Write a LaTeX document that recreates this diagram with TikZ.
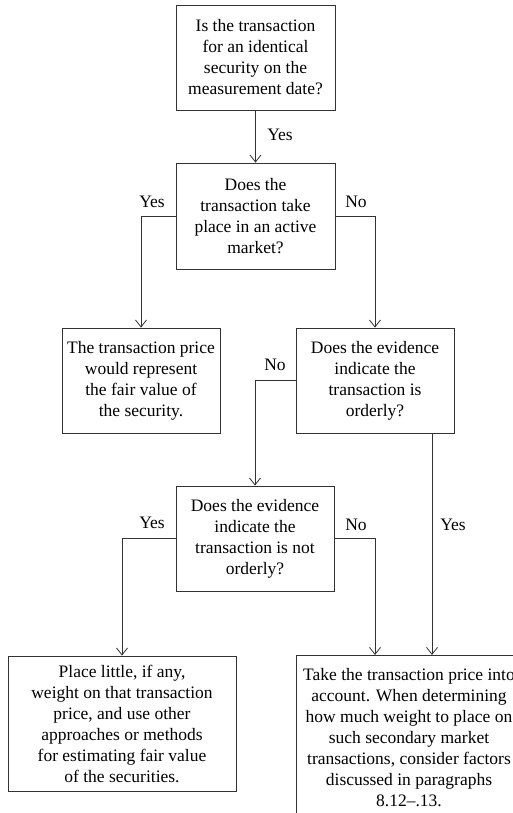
\documentclass[tikz,border=0pt]{standalone}
\usepackage{fontspec}
\setmainfont{Liberation Serif}
\usetikzlibrary{arrows.meta}
\begin{document}
\begin{tikzpicture}[x=1pt,y=-1pt,
    qbox/.style={draw=black!80, line width=0.8pt, align=center, inner sep=0pt,
        font=\fontsize{17.5}{21}\selectfont},
    link/.style={draw=black!80, line width=0.8pt, -{Straight Barb[length=7pt,width=11pt]}},
    tag/.style={font=\fontsize{17.5}{21}\selectfont, inner sep=0pt}]
            % Marco de la figura
            \useasboundingbox (0,0) rectangle (513,813);
            \clip (0,0) rectangle (513,813);

            % Cajas de preguntas
            \node[qbox, minimum width=159, minimum height=105] (q1) at (255.5,57.5)
                {Is the transaction\\ for an identical\\ security on the\\ measurement date?};
            \node[qbox, minimum width=159, minimum height=106] (q2) at (255.5,216)
                {Does the\\ transaction take\\ place in an active\\ market?};
            \node[qbox, minimum width=158, minimum height=105] (r1) at (141,380.5)
                {The transaction price\\ would represent\\ the fair value of\\ the security.};
            \node[qbox, minimum width=158, minimum height=105] (q3) at (375,380.5)
                {Does the evidence\\ indicate the\\ transaction is\\ orderly?};
            \node[qbox, minimum width=158, minimum height=105] (q4) at (255,538.5)
                {Does the evidence\\ indicate the\\ transaction is not\\ orderly?};

            % Cajas de resultado
            \node[qbox, minimum width=228, minimum height=135] (r2) at (122,723.5)
                {Place little, if any,\\ weight on that transaction\\ price, and use other\\ approaches or methods\\ for estimating fair value\\ of the securities.};
            \node[qbox, minimum width=226, minimum height=165] (r3) at (409,737.5)
                {Take the transaction price into\\ account. When determining\\ how much weight to place on\\ such secondary market\\ transactions, consider factors\\ discussed in paragraphs\\ 8.12--.13.};

            % Entradas de r3
            \coordinate (in1) at (375,655);
            \coordinate (in2) at (432,655);

            % Conectores
            \draw[link] (q1.south) -- (q2.north);
            \draw[link] (q2.west) -| (r1.north);
            \draw[link] (q2.east) -| (q3.north);
            \draw[link] (q3.west) -| (q4.north);
            \draw[link] (q4.west) -| (r2.north);
            \draw[link] (q4.east) -| (in1);
            \draw[link] (in2 |- q3.south) -- (in2);

            % Etiquetas
            \node[tag] (y1) at (280,135) {Yes};
            \node[tag] (y2) at (152,202) {Yes};
            \node[tag] (n1) at (356,202) {No};
            \node[tag] (n2) at (275,365) {No};
            \node[tag] (y3) at (152,523) {Yes};
            \node[tag] (n3) at (356,525) {No};
            \node[tag] (y4) at (453,525) {Yes};

        \end{tikzpicture}
\end{document}
